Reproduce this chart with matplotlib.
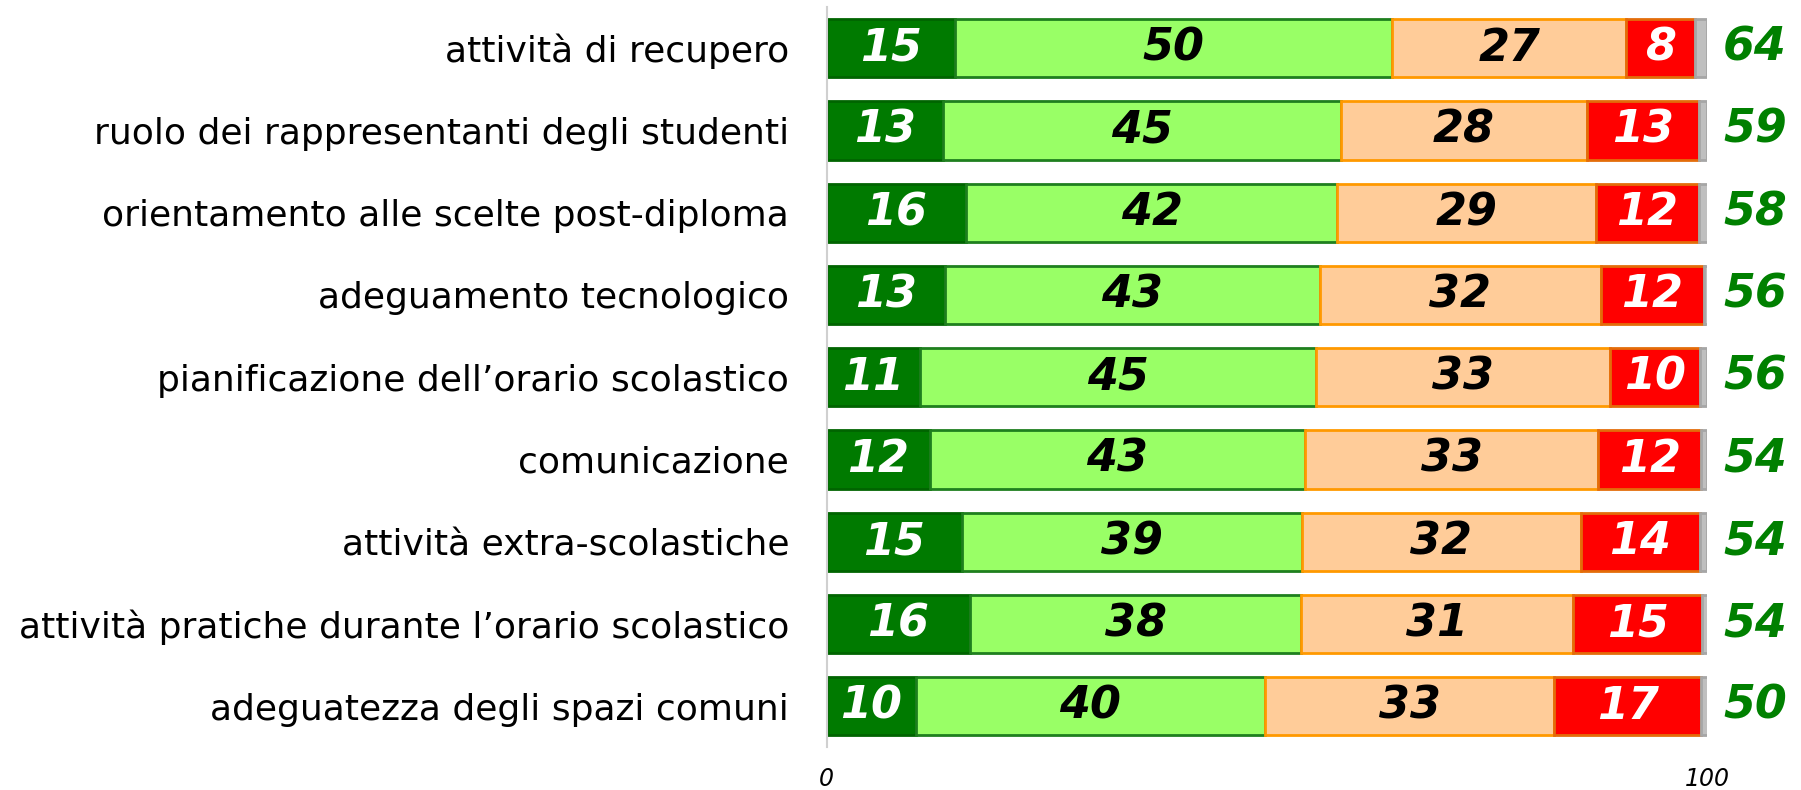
import matplotlib
matplotlib.use("Agg")
import matplotlib.pyplot as plt

# categories, top to bottom
categories = [
    "attività di recupero",
    "ruolo dei rappresentanti degli studenti",
    "orientamento alle scelte post-diploma",
    "adeguamento tecnologico",
    "pianificazione dell\u2019orario scolastico",
    "comunicazione",
    "attività extra-scolastiche",
    "attività pratiche durante l\u2019orario scolastico",
    "adeguatezza degli spazi comuni",
]
# segment shares (%)
molto = [14.6, 13.2, 15.8, 13.4, 10.6, 11.7, 15.4, 16.3, 10.1]
abbastanza = [49.6, 45.2, 42.2, 42.6, 45.0, 42.6, 38.6, 37.6, 39.7]
poco = [26.6, 27.9, 29.4, 31.9, 33.4, 33.3, 31.6, 30.9, 32.8]
per_niente = [7.8, 12.7, 11.6, 11.7, 10.2, 11.7, 13.6, 14.6, 16.7]
non_risp = [1.4, 1.0, 1.2, 0.7, 0.8, 0.7, 0.8, 0.8, 0.8]
# positive share shown on the right
positivi = [64, 59, 58, 56, 56, 54, 54, 54, 50]

SERIES = [
    (molto, "#007A00", "#006400", "white"),
    (abbastanza, "#99FF66", "#1E7F1E", "black"),
    (poco, "#FFCC99", "#FF9900", "black"),
    (per_niente, "#FF0000", "#E36C0A", "white"),
    (non_risp, "#BFBFBF", "#A6A6A6", None),
]

plt.rcParams["font.family"] = ["DejaVu Sans"]

fig = plt.figure(figsize=(18.01, 7.90), dpi=100)
ax = fig.add_axes([0.459, 0.054, 0.489, 0.937])

y = list(range(len(categories)))
left = [0.0] * len(categories)
for vals, face, edge, tcol in SERIES:
    ax.barh(y, vals, left=left, height=0.71, color=face, edgecolor=edge, linewidth=2)
    if tcol:
        for yi, (l, v) in enumerate(zip(left, vals)):
            ax.text(l + v / 2, yi, f"{round(v)}", ha="center", va="center",
                    color=tcol, fontsize=32, fontweight="bold", fontstyle="italic")
    left = [l + v for l, v in zip(left, vals)]

for yi, p in enumerate(positivi):
    ax.text(1.054, yi, str(p), transform=ax.get_yaxis_transform(),
            ha="center", va="center", color="#008000", fontsize=33,
            fontweight="bold", fontstyle="italic")

ax.set_ylim(len(categories) - 0.5, -0.5)
ax.set_xlim(0, 100)
ax.set_yticks(y)
ax.set_yticklabels(categories, fontsize=26)
ax.set_xticks([0, 100])
ax.set_xticklabels(["0", "100"], fontsize=17, fontstyle="italic")
ax.tick_params(axis="both", length=0)
ax.tick_params(axis="y", pad=27)
ax.tick_params(axis="x", pad=14)
for sp in ("top", "right", "bottom"):
    ax.spines[sp].set_visible(False)
ax.spines["left"].set_color("#D0D0D0")
ax.spines["left"].set_linewidth(1.5)

fig.savefig("out.png", dpi=100, facecolor="white")
